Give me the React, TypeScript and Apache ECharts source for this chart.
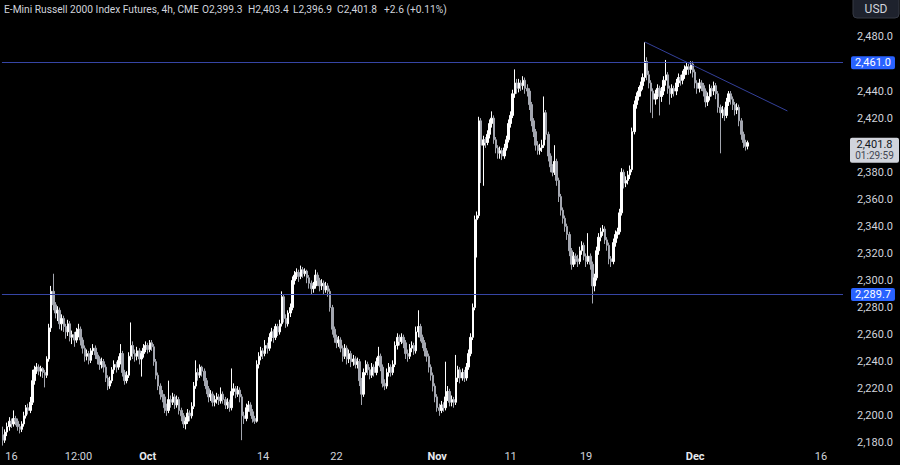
import React, { useEffect, useRef } from "react";
import * as echarts from "echarts";

// [open, close, low, high] per 4h candle
const ohlc: number[][] = [
  [2186,2182,2178,2192],[2182,2188,2180,2190],[2188,2192,2185,2195],[2192,2196,2189,2199],[2196,2194,2191,2198],
  [2194,2198,2192,2204],[2198,2196,2193,2200],[2196,2192,2189,2198],[2192,2190,2187,2194],[2190,2194,2188,2196],
  [2194,2200,2192,2203],[2200,2206,2198,2208],[2206,2204,2201,2209],[2204,2210,2202,2214],[2210,2226,2208,2234],
  [2226,2234,2223,2237],[2234,2236,2231,2239],[2236,2233,2230,2238],[2233,2235,2229,2237],[2235,2232,2228,2236],
  [2232,2230,2221,2234],[2230,2242,2228,2244],[2242,2265,2240,2268],[2265,2292,2262,2296],[2292,2282,2278,2305],
  [2282,2276,2272,2284],[2276,2278,2270,2281],[2278,2268,2264,2280],[2268,2272,2263,2275],[2272,2266,2262,2274],
  [2266,2262,2257,2268],[2262,2268,2259,2271],[2268,2258,2255,2270],[2258,2260,2253,2263],[2260,2256,2251,2262],
  [2256,2262,2254,2265],[2262,2264,2258,2268],[2264,2256,2252,2266],[2256,2250,2246,2258],[2250,2244,2240,2252],
  [2244,2246,2241,2249],[2246,2241,2238,2248],[2241,2248,2239,2250],[2248,2250,2245,2253],[2250,2245,2242,2252],
  [2245,2242,2238,2247],[2242,2238,2234,2244],[2238,2240,2235,2243],[2240,2236,2232,2242],[2236,2228,2225,2238],
  [2228,2222,2219,2230],[2222,2226,2220,2229],[2226,2234,2224,2236],[2234,2238,2231,2241],[2238,2236,2232,2240],
  [2236,2241,2234,2244],[2241,2246,2238,2253],[2246,2232,2229,2248],[2232,2226,2223,2234],[2226,2230,2224,2233],
  [2230,2244,2228,2247],[2244,2252,2241,2269],[2252,2246,2242,2255],[2246,2244,2240,2249],[2244,2248,2241,2251],
  [2248,2242,2238,2250],[2242,2246,2229,2248],[2246,2250,2243,2253],[2250,2252,2247,2255],[2252,2249,2246,2254],
  [2249,2254,2247,2256],[2254,2251,2248,2256],[2251,2240,2237,2253],[2240,2230,2227,2242],[2230,2222,2219,2232],
  [2222,2216,2212,2224],[2216,2214,2210,2219],[2214,2206,2202,2216],[2206,2204,2200,2209],[2204,2212,2202,2226],
  [2212,2210,2206,2215],[2210,2214,2208,2217],[2214,2208,2205,2216],[2208,2212,2206,2215],[2212,2204,2201,2214],
  [2204,2200,2196,2206],[2200,2194,2191,2202],[2194,2196,2190,2199],[2196,2202,2194,2205],[2202,2200,2196,2204],
  [2200,2207,2198,2210],[2207,2222,2205,2225],[2222,2232,2220,2241],[2232,2230,2226,2235],[2230,2236,2228,2238],
  [2236,2233,2229,2237],[2233,2226,2222,2235],[2226,2220,2216,2228],[2220,2214,2210,2222],[2214,2216,2211,2219],
  [2216,2210,2207,2218],[2210,2212,2207,2215],[2212,2214,2209,2217],[2214,2211,2208,2216],[2211,2216,2209,2221],
  [2216,2212,2209,2218],[2212,2208,2205,2214],[2208,2210,2205,2213],[2210,2206,2203,2212],[2206,2218,2204,2235],
  [2218,2220,2215,2224],[2220,2216,2213,2222],[2216,2219,2214,2222],[2219,2214,2210,2221],[2214,2200,2182,2216],
  [2200,2198,2194,2203],[2198,2206,2196,2209],[2206,2208,2203,2211],[2208,2203,2200,2210],[2203,2198,2195,2205],
  [2198,2196,2194,2200],[2196,2238,2195,2241],[2238,2244,2235,2247],[2244,2248,2241,2251],[2248,2246,2242,2250],
  [2246,2252,2244,2256],[2252,2250,2246,2254],[2250,2258,2248,2261],[2258,2262,2255,2265],[2262,2258,2254,2264],
  [2258,2266,2256,2268],[2266,2262,2259,2268],[2262,2268,2260,2271],[2268,2288,2266,2292],[2288,2272,2269,2290],
  [2272,2268,2265,2275],[2268,2276,2266,2278],[2276,2280,2273,2283],[2280,2300,2278,2303],[2300,2304,2297,2307],
  [2304,2306,2301,2309],[2306,2303,2299,2308],[2303,2308,2301,2311],[2308,2305,2302,2310],[2305,2307,2303,2309],
  [2307,2302,2298,2308],[2302,2298,2294,2304],[2298,2294,2290,2300],[2294,2296,2291,2299],[2296,2304,2294,2308],
  [2304,2300,2296,2306],[2300,2296,2292,2302],[2296,2298,2293,2301],[2298,2293,2290,2300],[2293,2296,2291,2299],
  [2296,2292,2288,2298],[2292,2280,2277,2294],[2280,2264,2260,2282],[2264,2258,2254,2266],[2258,2254,2250,2260],
  [2254,2256,2251,2259],[2256,2250,2247,2258],[2250,2244,2240,2252],[2244,2250,2242,2253],[2250,2242,2238,2252],
  [2242,2246,2239,2249],[2246,2240,2236,2248],[2240,2242,2237,2245],[2242,2238,2235,2244],[2238,2240,2235,2243],
  [2240,2226,2222,2242],[2226,2216,2208,2228],[2216,2232,2214,2235],[2232,2238,2230,2241],[2238,2234,2230,2240],
  [2234,2230,2227,2236],[2230,2236,2228,2239],[2236,2232,2229,2238],[2232,2240,2230,2243],[2240,2244,2237,2251],
  [2244,2236,2233,2246],[2236,2224,2221,2238],[2224,2222,2219,2227],[2222,2232,2220,2235],[2232,2236,2229,2239],
  [2236,2232,2229,2238],[2232,2238,2230,2241],[2238,2252,2236,2255],[2252,2258,2249,2261],[2258,2255,2252,2260],
  [2255,2258,2253,2261],[2258,2254,2250,2260],[2254,2246,2242,2256],[2246,2244,2240,2249],[2244,2250,2242,2253],
  [2250,2252,2247,2255],[2252,2248,2245,2254],[2248,2262,2246,2266],[2262,2266,2258,2278],[2266,2258,2255,2268],
  [2258,2254,2250,2260],[2254,2248,2244,2256],[2248,2244,2240,2250],[2244,2236,2232,2246],[2236,2230,2226,2238],
  [2230,2222,2218,2232],[2222,2214,2210,2224],[2214,2206,2203,2216],[2206,2204,2200,2209],[2204,2208,2202,2211],
  [2208,2206,2203,2210],[2206,2214,2204,2240],[2214,2218,2211,2222],[2218,2210,2207,2220],[2210,2212,2207,2215],
  [2212,2210,2206,2214],[2210,2228,2208,2245],[2228,2234,2225,2237],[2234,2228,2224,2236],[2228,2232,2226,2235],
  [2232,2228,2225,2234],[2228,2236,2226,2239],[2236,2246,2234,2249],[2246,2258,2244,2261],[2258,2280,2256,2283],
  [2280,2345,2278,2348],[2345,2348,2317,2351],[2348,2418,2346,2421],[2418,2400,2372,2420],[2400,2404,2370,2407],
  [2404,2402,2398,2406],[2402,2408,2400,2411],[2408,2416,2405,2419],[2416,2420,2413,2425],[2420,2404,2401,2422],
  [2404,2398,2394,2406],[2398,2394,2390,2400],[2394,2396,2390,2399],[2396,2392,2389,2398],[2392,2398,2390,2401],
  [2398,2404,2396,2407],[2404,2416,2402,2419],[2416,2422,2413,2425],[2422,2438,2420,2441],[2438,2446,2435,2456],
  [2446,2442,2438,2449],[2442,2446,2439,2449],[2446,2444,2440,2448],[2444,2448,2441,2451],[2448,2442,2438,2450],
  [2442,2440,2436,2445],[2440,2430,2426,2442],[2430,2418,2414,2432],[2418,2410,2406,2420],[2410,2400,2396,2412],
  [2400,2396,2393,2403],[2396,2398,2393,2401],[2398,2400,2395,2404],[2400,2424,2398,2436],[2424,2408,2404,2426],
  [2408,2392,2388,2410],[2392,2384,2380,2394],[2384,2380,2377,2386],[2380,2388,2378,2400],[2388,2374,2370,2390],
  [2374,2362,2358,2376],[2362,2352,2348,2364],[2352,2346,2342,2354],[2346,2340,2336,2348],[2340,2334,2330,2342],
  [2334,2322,2318,2336],[2322,2312,2308,2324],[2312,2318,2310,2321],[2318,2316,2312,2320],[2316,2314,2310,2319],
  [2314,2322,2312,2325],[2322,2326,2319,2329],[2326,2318,2315,2328],[2318,2314,2310,2320],[2314,2318,2312,2335],
  [2318,2312,2308,2320],[2312,2296,2283,2314],[2296,2302,2292,2305],[2302,2322,2300,2325],[2322,2332,2319,2335],
  [2332,2336,2329,2339],[2336,2338,2333,2341],[2338,2330,2327,2340],[2330,2326,2322,2332],[2326,2316,2312,2328],
  [2316,2314,2310,2318],[2314,2328,2312,2331],[2328,2334,2325,2337],[2334,2336,2331,2339],[2336,2350,2334,2353],
  [2350,2380,2348,2383],[2380,2372,2368,2382],[2372,2374,2369,2377],[2374,2378,2371,2381],[2378,2382,2375,2385],
  [2382,2410,2380,2413],[2410,2430,2408,2433],[2430,2436,2427,2439],[2436,2440,2433,2443],[2440,2444,2436,2447],
  [2444,2450,2441,2453],[2450,2462,2447,2476],[2462,2452,2448,2465],[2452,2446,2442,2455],[2446,2440,2424,2448],
  [2440,2434,2420,2442],[2434,2438,2430,2441],[2438,2442,2434,2445],[2442,2436,2422,2444],[2436,2440,2432,2443],
  [2440,2448,2437,2451],[2448,2452,2444,2463],[2452,2442,2438,2454],[2442,2438,2430,2444],[2438,2442,2435,2445],
  [2442,2440,2436,2444],[2440,2446,2437,2449],[2446,2450,2443,2453],[2450,2448,2444,2452],[2448,2452,2445,2455],
  [2452,2456,2449,2459],[2456,2458,2452,2461],[2458,2456,2452,2460],[2456,2460,2453,2462],[2460,2454,2450,2462],
  [2454,2446,2442,2456],[2446,2442,2438,2448],[2442,2446,2439,2449],[2446,2444,2440,2448],[2444,2440,2436,2446],
  [2440,2432,2428,2442],[2432,2436,2429,2439],[2436,2442,2433,2445],[2442,2440,2436,2444],[2440,2444,2437,2447],
  [2444,2438,2434,2446],[2438,2428,2424,2440],[2428,2424,2394,2430],[2424,2426,2420,2429],[2426,2422,2418,2428],
  [2422,2432,2420,2435],[2432,2438,2429,2440],[2438,2434,2430,2440],[2434,2430,2426,2436],[2430,2426,2422,2432],
  [2426,2428,2423,2431],[2428,2418,2414,2430],[2418,2408,2404,2420],[2408,2402,2398,2410],[2402,2399.2,2396,2404],
  [2399.3,2401.8,2396.9,2403.4],
];

const categoryCount = 401;
// [category index, text, isMonth]
const xTickLabels: [number, string, boolean][] = [
  [4, "16", false], [36, "12:00", false], [69, "Oct", true], [124, "14", false], [159, "22", false],
  [207, "Nov", true], [242, "11", false], [278, "19", false], [330, "Dec", true], [390, "16", false],
];
// 2,460 and 2,400 are hidden behind the price labels in the reference
const yTicks = [2180, 2200, 2220, 2240, 2260, 2280, 2300, 2320, 2340, 2360, 2380, 2420, 2440, 2480];
const yMin = 2177.7;
const yMax = 2507.3;
const levels = [2461.0, 2289.7];
const trendLine: [number, number][] = [[306, 2476.3], [374, 2425.3]];
const lastPrice = 2401.8;
const countdown = "01:29:59";
const title = "E-Mini Russell 2000 Index Futures, 4h, CME";
const changeText = "+2.6 (+0.11%)";

const fmt = (v: number) =>
  v.toLocaleString("en-US", { minimumFractionDigits: 1, maximumFractionDigits: 1 });

const FONT = "Roboto, 'Liberation Sans', sans-serif";
const TXT = "#d1d4dc";

export default function App() {
  const ref = useRef<HTMLDivElement>(null);
  useEffect(() => {
    if (!ref.current) return;
    const chart = echarts.init(ref.current, null, { renderer: "svg" });
    const labelMap: Record<number, [string, boolean]> = {};
    xTickLabels.forEach(([i, t, m]) => (labelMap[i] = [t, m]));
    const cats = Array.from({ length: categoryCount }, (_, i) => String(i));
    const last = ohlc[ohlc.length - 1];

    chart.setOption({
      animation: false,
      backgroundColor: "#000000",
      textStyle: { fontFamily: FONT },
      grid: { left: 0, top: 0, width: 843, height: 446 },
      xAxis: {
        type: "category",
        data: cats,
        boundaryGap: true,
        axisLine: { show: false },
        axisTick: { show: false },
        splitLine: { show: false },
        axisLabel: {
          interval: 0,
          margin: 5,
          color: TXT,
          fontSize: 11,
          fontFamily: FONT,
          formatter: (_v: string, idx: number) => {
            const l = labelMap[idx];
            if (!l) return "";
            return l[1] ? `{b|${l[0]}}` : l[0];
          },
          rich: { b: { fontWeight: "bold", color: "#e6e8ee", fontSize: 11, fontFamily: FONT } },
        },
      },
      yAxis: {
        type: "value",
        position: "right",
        min: yMin,
        max: yMax,
        scale: true,
        axisLine: { show: false },
        axisTick: { show: false },
        splitLine: { show: false },
        axisLabel: {
          customValues: yTicks,
          color: TXT,
          fontSize: 11,
          fontFamily: FONT,
          margin: 14,
          formatter: (v: number) => fmt(v),
        },
      },
      series: [
        {
          type: "candlestick",
          data: ohlc,
          barWidth: 2,
          itemStyle: {
            color: "#ffffff",
            color0: "#a3a6af",
            borderColor: "#ffffff",
            borderColor0: "#a3a6af",
            borderWidth: 1,
          },
          markLine: {
            silent: true,
            symbol: ["none", "none"],
            animation: false,
            data: [
              ...levels.map((v) => ({
                yAxis: v,
                lineStyle: { color: "#3645a5", width: 1, type: "solid" },
                label: {
                  show: true,
                  position: "end",
                  distance: 8,
                  formatter: fmt(v),
                  backgroundColor: "#2962ff",
                  color: "#ffffff",
                  fontSize: 11,
                  fontFamily: FONT,
                  padding: [1, 4, 1, 4],
                  borderRadius: 2,
                },
              })),
              [
                { coord: [trendLine[0][0], trendLine[0][1]], lineStyle: { color: "#34409a", width: 1, type: "solid" }, label: { show: false } },
                { coord: [trendLine[1][0], trendLine[1][1]] },
              ],
            ],
          },
        },
      ],
    });

    const yPx = chart.convertToPixel({ yAxisIndex: 0 }, lastPrice) as number;
    const head = (x: number, text: string) => ({
      type: "text",
      x,
      y: 9,
      scaleX: 0.93,
      style: { text, fill: TXT, font: `11px ${FONT}`, verticalAlign: "middle" },
    });
    chart.setOption({
      graphic: [
        head(4, title),
        head(202, `O${fmt(last[0])}`),
        head(248, `H${fmt(last[3])}`),
        head(293, `L${fmt(last[2])}`),
        head(337, `C${fmt(last[1])}`),
        head(384, changeText),
        {
          type: "rect",
          shape: { x: 853, y: -4, width: 46, height: 22, r: 4 },
          style: { fill: "#1e222d", stroke: "#363a45", lineWidth: 1 },
        },
        {
          type: "text",
          x: 876,
          y: 9,
          style: { text: "USD", fill: TXT, font: `12px ${FONT}`, align: "center", verticalAlign: "middle" },
        },
        {
          type: "rect",
          shape: { x: 850, y: yPx - 5, width: 49, height: 25, r: 2 },
          style: { fill: "#d1d4dc" },
        },
        {
          type: "text",
          x: 874.5,
          y: yPx + 1.5,
          style: { text: fmt(lastPrice), fill: "#131722", font: `11px ${FONT}`, align: "center", verticalAlign: "middle" },
        },
        {
          type: "text",
          x: 874.5,
          y: yPx + 13,
          style: { text: countdown, fill: "#434651", font: `10px ${FONT}`, align: "center", verticalAlign: "middle" },
        },
      ],
    });

    return () => chart.dispose();
  }, []);

  return (
    <div
      ref={ref}
      style={{ position: "fixed", left: 0, top: 0, width: 900, height: 465, background: "#000" }}
    />
  );
}
